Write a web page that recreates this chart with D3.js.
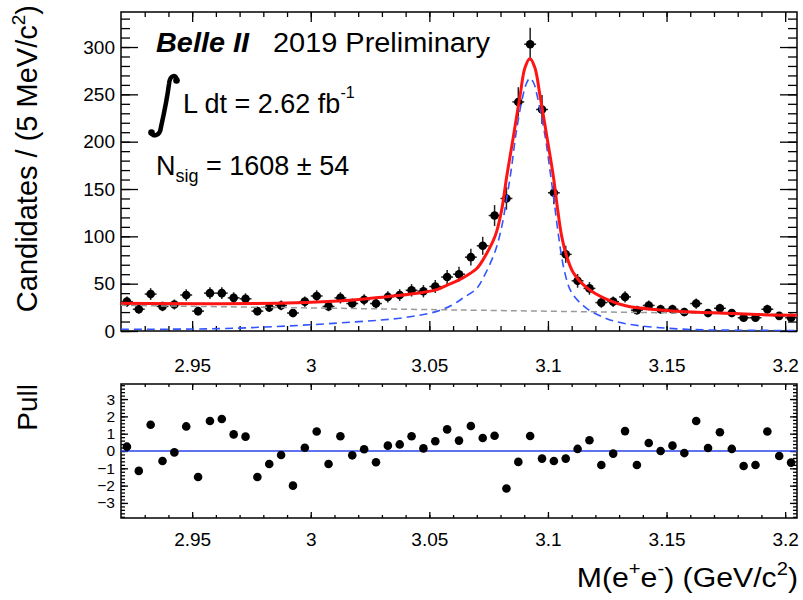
<!DOCTYPE html>
<html>
<head>
<meta charset="utf-8">
<script src="https://cdn.jsdelivr.net/npm/d3@7"></script>
<style>
  body { margin: 0; background: #fff; }
  svg { font-family: "Liberation Sans", Arial, Helvetica, sans-serif; }
</style>
</head>
<body>
<svg id="chart" width="803" height="600"></svg>
<script>
// 5 MeV bins, centres
var massBins = [2.9225, 2.9275, 2.9325, 2.9375, 2.9425, 2.9475, 2.9525, 2.9575, 2.9625, 2.9675,
  2.9725, 2.9775, 2.9825, 2.9875, 2.9925, 2.9975, 3.0025, 3.0075, 3.0125, 3.0175,
  3.0225, 3.0275, 3.0325, 3.0375, 3.0425, 3.0475, 3.0525, 3.0575, 3.0625, 3.0675,
  3.0725, 3.0775, 3.0825, 3.0875, 3.0925, 3.0975, 3.1025, 3.1075, 3.1125, 3.1175,
  3.1225, 3.1275, 3.1325, 3.1375, 3.1425, 3.1475, 3.1525, 3.1575, 3.1625, 3.1675,
  3.1725, 3.1775, 3.1825, 3.1875, 3.1925, 3.1975, 3.2025];
var candidates = [31, 23, 39, 26, 28, 38, 21, 40, 40, 35,
  34, 21, 25, 27, 19, 31, 37, 26, 35, 29,
  33, 29, 36, 38, 43, 42, 47, 57, 60, 78,
  90, 122, 140, 242, 303, 234, 146, 81, 53, 45,
  30, 31, 36, 22, 27, 23, 23, 20, 29, 19,
  24, 19, 14, 14, 23, 16, 14];
var pulls = [0.25, -1.15, 1.52, -0.58, -0.08, 1.42, -1.5, 1.73, 1.85, 0.96,
  0.83, -1.5, -0.75, -0.23, -2.0, 0.19, 1.13, -0.75, 0.85, -0.25,
  0.1, -0.65, 0.31, 0.38, 0.85, 0.15, 0.56, 1.25, 0.6, 1.44,
  0.75, 0.88, -2.17, -0.63, 0.87, -0.44, -0.58, -0.44, 0.12, 0.62,
  -0.81, -0.15, 1.15, -0.81, 0.46, 0.0, 0.31, -0.12, 1.73, 0.17,
  1.08, 0.12, -0.87, -0.81, 1.13, -0.29, -0.67];

// fit curves
var totalX = [2.920, 2.990, 3.018, 3.032, 3.0465, 3.0535, 3.0575, 3.0625, 3.0660, 3.0700,
  3.0727, 3.0777, 3.0805, 3.0826, 3.0854, 3.0882, 3.0903, 3.0924, 3.0945, 3.0967,
  3.0995, 3.1023, 3.1040, 3.1058, 3.1079, 3.1107, 3.1163, 3.1248, 3.1332, 3.1472,
  3.1613, 3.1754, 3.1894, 3.205];
var totalY = [29.2, 29.5, 32.7, 36.3, 40.5, 44, 48.5, 54, 59, 66,
  75.6, 100, 128, 163, 205, 248, 278, 288, 278, 248,
  206, 163, 130, 100, 79, 61.6, 45.8, 33.4, 26.4, 22.2,
  20, 18.7, 17.3, 16.6];
var signalX = [2.920, 2.962, 2.990, 3.018, 3.0394, 3.0535, 3.0600, 3.0643, 3.0700, 3.0727,
  3.0777, 3.0805, 3.0826, 3.0845, 3.0865, 3.0894, 3.0910, 3.0924, 3.0940, 3.0955,
  3.0988, 3.1010, 3.1027, 3.1045, 3.1068, 3.1100, 3.1163, 3.1248, 3.1332, 3.1472,
  3.1613, 3.1754, 3.205];
var signalY = [1.8, 2.5, 5.3, 9.5, 14.1, 21, 28, 35, 45, 56,
  84, 110, 140, 170, 208, 248, 262, 267, 262, 248,
  206, 167, 135, 100, 65, 40.5, 24, 13, 7.5, 3.5,
  1.5, 0.9, 0.5];
var bkgX = [2.920, 3.0625, 3.205];
var bkgY = [27.1, 22.2, 17.3];

var xTicks = [2.95, 3, 3.05, 3.1, 3.15, 3.2];
var xTickLabels = ['2.95', '3', '3.05', '3.1', '3.15', '3.2'];
var yTicks = [0, 50, 100, 150, 200, 250, 300];
var pullTicks = [-3, -2, -1, 0, 1, 2, 3];

var svg = d3.select('#chart');

var x = d3.scaleLinear().domain([2.92, 3.205]).range([121, 797]);
var y = d3.scaleLinear().domain([0, 337]).range([331, 12]);
var yPull = d3.scaleLinear().domain([-3.87, 3.87]).range([518, 384]);

var xMinor = d3.range(293, 321).map(function(v) { return v / 100; });
var yMinor = d3.range(0, 340, 10);
var pullMinor = d3.range(-19, 20).map(function(v) { return v / 5; });

function addAxis(kind, scale, pos, values, size, fmt, pad, fs) {
  var gen = {bottom: d3.axisBottom, top: d3.axisTop, left: d3.axisLeft, right: d3.axisRight}[kind](scale)
    .tickValues(values)
    .tickSizeInner(-size)
    .tickSizeOuter(0)
    .tickPadding(pad || 0)
    .tickFormat(fmt || function() { return ''; });
  var tr = (kind === 'bottom' || kind === 'top') ? 'translate(0,' + pos + ')' : 'translate(' + pos + ',0)';
  var g = svg.append('g').attr('transform', tr).call(gen);
  g.select('.domain').remove();
  g.attr('font-family', null).attr('font-size', null);
  g.selectAll('.tick line').attr('stroke', '#000').attr('stroke-width', 1.3);
  g.selectAll('.tick text').attr('font-size', fs || 19).attr('fill', '#000');
  return g;
}

var fmtX = function(d) { return xTickLabels[xTicks.indexOf(d)]; };

// ---- upper pad: axes ----
addAxis('bottom', x, 331, xMinor, 5);
addAxis('bottom', x, 331, xTicks, 10, fmtX, 28, 19);
addAxis('top', x, 12, xMinor, 5);
addAxis('top', x, 12, xTicks, 10);
addAxis('left', y, 121, yMinor, 9);
addAxis('left', y, 121, yTicks, 17, d3.format('d'), 6, 19);
addAxis('right', y, 797, yMinor, 9);
addAxis('right', y, 797, yTicks, 17);

svg.append('rect')
  .attr('x', 121).attr('y', 12).attr('width', 676).attr('height', 319)
  .attr('fill', 'none').attr('stroke', '#000').attr('stroke-width', 1.5);

// ---- lower pad: axes ----
addAxis('bottom', x, 518, xMinor, 3);
addAxis('bottom', x, 518, xTicks, 6, fmtX, 15, 19);
addAxis('top', x, 384, xMinor, 3);
addAxis('top', x, 384, xTicks, 6);
addAxis('left', yPull, 121, pullMinor, 4);
addAxis('left', yPull, 121, pullTicks, 7, d3.format('d'), 6, 15.5);
addAxis('right', yPull, 797, pullMinor, 4);
addAxis('right', yPull, 797, pullTicks, 7);

svg.append('rect')
  .attr('x', 121).attr('y', 384).attr('width', 676).attr('height', 134)
  .attr('fill', 'none').attr('stroke', '#000').attr('stroke-width', 1.5);

// ---- data points ----
var dataG = svg.append('g');
var pts = d3.zip(massBins, candidates);
dataG.selectAll('line.ey').data(pts).enter().append('line')
  .attr('x1', function(d) { return x(d[0]); })
  .attr('x2', function(d) { return x(d[0]); })
  .attr('y1', function(d) { return y(d[1] - Math.sqrt(d[1])); })
  .attr('y2', function(d) { return y(d[1] + Math.sqrt(d[1])); })
  .attr('stroke', '#222').attr('stroke-width', 1.5);
dataG.selectAll('line.ex').data(pts).enter().append('line')
  .attr('x1', function(d) { return x(d[0] - 0.0025); })
  .attr('x2', function(d) { return x(d[0] + 0.0025); })
  .attr('y1', function(d) { return y(d[1]); })
  .attr('y2', function(d) { return y(d[1]); })
  .attr('stroke', '#222').attr('stroke-width', 1.5);
dataG.selectAll('circle').data(pts).enter().append('circle')
  .attr('cx', function(d) { return x(d[0]); })
  .attr('cy', function(d) { return y(d[1]); })
  .attr('r', 4.3)
  .attr('fill', '#000');

// ---- fit curves ----
svg.append('clipPath').attr('id', 'clipMain')
  .append('rect').attr('x', 121).attr('y', 12).attr('width', 676).attr('height', 319);

var curve = d3.line()
  .x(function(d) { return x(d[0]); })
  .y(function(d) { return y(d[1]); })
  .curve(d3.curveCatmullRom.alpha(0.5));

var curvesG = svg.append('g').attr('clip-path', 'url(#clipMain)');
curvesG.append('path').datum(d3.zip(bkgX, bkgY))
  .attr('d', curve).attr('fill', 'none')
  .attr('stroke', '#9a9a9a').attr('stroke-width', 1.5).attr('stroke-dasharray', '6,4');
curvesG.append('path').datum(d3.zip(signalX, signalY))
  .attr('d', curve).attr('fill', 'none')
  .attr('stroke', '#3355ff').attr('stroke-width', 1.6).attr('stroke-dasharray', '8,5');
curvesG.append('path').datum(d3.zip(totalX, totalY))
  .attr('d', curve).attr('fill', 'none')
  .attr('stroke', '#ff1414').attr('stroke-width', 3);

// ---- pull panel ----
svg.append('line')
  .attr('x1', 121).attr('x2', 797)
  .attr('y1', yPull(0)).attr('y2', yPull(0))
  .attr('stroke', '#2a45ee').attr('stroke-width', 1.6);
svg.append('g').selectAll('circle').data(d3.zip(massBins, pulls)).enter().append('circle')
  .attr('cx', function(d) { return x(d[0]); })
  .attr('cy', function(d) { return yPull(d[1]); })
  .attr('r', 4.3)
  .attr('fill', '#000');

// ---- labels ----
var txt = svg.append('g').attr('fill', '#000');
txt.append('text').attr('x', 156).attr('y', 52)
  .attr('font-size', 27).attr('font-weight', 'bold').attr('font-style', 'italic')
  .attr('textLength', 93).attr('lengthAdjust', 'spacingAndGlyphs')
  .text('Belle II');
txt.append('text').attr('x', 273).attr('y', 52)
  .attr('font-size', 27)
  .attr('textLength', 217).attr('lengthAdjust', 'spacingAndGlyphs')
  .text('2019 Preliminary');

// integral sign
txt.append('path')
  .attr('d', 'M177,81 C177,74 170,74 169,84 C167,100 163,118 161,127 C160,137 152,137 151,132')
  .attr('fill', 'none').attr('stroke', '#000').attr('stroke-width', 4.5).attr('stroke-linecap', 'round');
txt.append('circle').attr('cx', 176.5).attr('cy', 80.5).attr('r', 3.3);
txt.append('circle').attr('cx', 151.5).attr('cy', 132.5).attr('r', 3.3);

var lum = txt.append('text').attr('x', 183).attr('y', 113).attr('font-size', 27);
lum.append('tspan').text('L dt = 2.62 fb');
lum.append('tspan').attr('font-size', 16).attr('dy', -15).text('-1');

var nsig = txt.append('text').attr('x', 156).attr('y', 175).attr('font-size', 27);
nsig.append('tspan').text('N');
nsig.append('tspan').attr('font-size', 18).attr('dy', 7).text('sig');
nsig.append('tspan').attr('dy', -7).text(' = 1608 \u00b1 54');

// axis titles
var yt = txt.append('text')
  .attr('transform', 'translate(37,5) rotate(-90)')
  .attr('text-anchor', 'end').attr('font-size', 29);
yt.append('tspan').text('Candidates / (5 MeV/c');
yt.append('tspan').attr('font-size', 19).attr('dy', -12).text('2');
yt.append('tspan').attr('dy', 12).text(')');

txt.append('text')
  .attr('transform', 'translate(37,384) rotate(-90)')
  .attr('text-anchor', 'end').attr('font-size', 28)
  .text('Pull');

var xt = txt.append('text')
  .attr('transform', 'translate(798,587) scale(1.12,1)')
  .attr('text-anchor', 'end').attr('font-size', 27);
xt.append('tspan').text('M(e');
xt.append('tspan').attr('font-size', 18).attr('dy', -12).text('+');
xt.append('tspan').attr('dy', 12).text('e');
xt.append('tspan').attr('font-size', 18).attr('dy', -12).text('-');
xt.append('tspan').attr('dy', 12).text(') (GeV/c');
xt.append('tspan').attr('font-size', 18).attr('dy', -12).text('2');
xt.append('tspan').attr('dy', 12).text(')');
</script>
</body>
</html>
